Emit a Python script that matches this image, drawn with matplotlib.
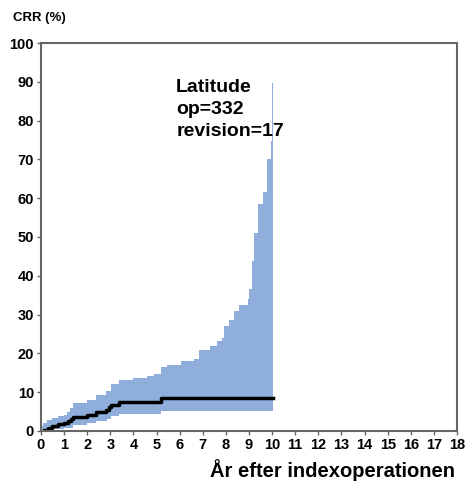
import numpy as np
import matplotlib.pyplot as plt

plt.rcParams['font.family'] = ['Liberation Sans', 'DejaVu Sans']
plt.rcParams['font.weight'] = 'bold'

# cumulative revision rate (step, post)
est_x = [0, 0.15, 0.3, 0.5, 0.75, 1.0, 1.15, 1.3, 1.4, 2.0, 2.4, 2.8, 2.95, 3.05, 3.36, 5.2, 10.05]
est_y = [0, 0.3, 0.8, 1.4, 1.7, 2.0, 2.5, 3.0, 3.6, 4.2, 4.9, 5.5, 6.2, 6.8, 7.5, 8.6, 8.6]

up_x = [0, 0.1, 0.25, 0.5, 0.75, 1.0, 1.12, 1.25, 1.4, 2.0, 2.4, 2.8, 3.04, 3.36, 4.0,
        4.6, 4.9, 5.2, 5.45, 6.04, 6.6, 6.85, 7.3, 7.6, 7.85, 7.93, 8.15, 8.36, 8.58,
        8.94, 9.01, 9.11, 9.23, 9.4, 9.59, 9.78, 9.93, 10.0, 10.05]
up_y = [1.3, 2.1, 2.8, 3.4, 3.8, 4.2, 4.9, 5.9, 7.2, 8.1, 9.2, 10.2, 12.1, 13.1, 13.7,
        14.2, 14.8, 16.5, 16.9, 18.0, 18.6, 21.0, 22.0, 23.1, 23.9, 27.0, 28.7, 30.9, 32.6,
        33.9, 36.5, 43.8, 51.0, 58.4, 61.5, 70.0, 74.7, 89.7, 89.7]

lo_x = [0, 1.0, 1.4, 2.0, 2.4, 2.85, 3.04, 3.36, 5.2, 10.05]
lo_y = [0.4, 0.8, 1.5, 2.1, 2.5, 3.0, 3.8, 4.4, 5.1, 5.1]

# lay both CI bounds on one x grid
grid = sorted(set(up_x) | set(lo_x))
def stepval(xs, ys, g):
    idx = np.searchsorted(xs, g, side='right') - 1
    return [ys[max(i, 0)] for i in idx]
up_g = stepval(up_x, up_y, grid)
lo_g = stepval(lo_x, lo_y, grid)

fig = plt.figure(figsize=(4.65, 4.86), dpi=100)
ax = fig.add_axes([0.088, 0.1132, 0.895, 0.7983])

ax.fill_between(grid, lo_g, up_g, step='post', color='#8faedb', linewidth=0)
ax.step(est_x, est_y, where='post', color='black', linewidth=2.5)

ax.set_xlim(0, 18)
ax.set_ylim(0, 100)
ax.set_xticks(range(0, 19))
ax.set_yticks(range(0, 101, 10))
ax.set_xticklabels([str(i) for i in range(0, 19)], fontweight='bold', fontsize=10.5)
ax.set_yticklabels([str(i) for i in range(0, 101, 10)], fontweight='bold', fontsize=10.5)
ax.tick_params(direction='out', length=3, width=1, color='#666666', pad=2)
for s in ax.spines.values():
    s.set_color('#666666')
    s.set_linewidth(1.5)

ax.text(5.85, 90.8, "Latitude\nop=332\nrevision=17", fontsize=14, fontweight='bold',
        va='top', ha='left', linespacing=1.4)

fig.text(0.028, 0.963, "CRR (%)", fontsize=9.5, fontweight='bold', ha='left', va='center')
fig.text(0.978, 0.033, "År efter indexoperationen", fontsize=14.5, fontweight='bold',
         ha='right', va='center')

fig.savefig("out.png", dpi=100)
